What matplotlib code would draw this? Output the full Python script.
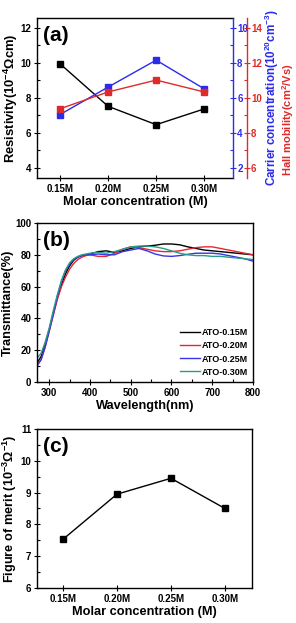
import matplotlib

matplotlib.use("Agg")
import matplotlib.pyplot as plt
from matplotlib.ticker import MultipleLocator

plt.rcParams.update({
    "font.family": ["Liberation Sans", "DejaVu Sans"],
    "font.weight": "bold",
    "axes.labelweight": "bold",
    "mathtext.fontset": "custom",
    "mathtext.rm": "Liberation Sans:bold",
    "mathtext.it": "Liberation Sans:bold",
    "mathtext.bf": "Liberation Sans:bold",
    "mathtext.default": "rm",
    "axes.linewidth": 1.0,
})

# ---- panel (a) / (c): molar concentration series ----
conc_labels = ["0.15M", "0.20M", "0.25M", "0.30M"]
resistivity = [9.93, 7.50, 6.45, 7.35]      # 10^-4 ohm cm
carrier = [5.03, 6.60, 8.14, 6.50]          # 10^20 cm^-3
mobility = [9.36, 10.32, 11.00, 10.32]      # cm^2/Vs
fom = [7.53, 8.95, 9.45, 8.50]              # 10^-3 ohm^-1

# ---- panel (b): transmittance spectra ----
wavelength = [270, 280, 290, 300, 310, 320, 330, 340, 350, 360, 370, 380, 390, 400,
              420, 440, 460, 480, 500, 520, 540, 560, 580, 600, 620, 640, 660, 680,
              700, 720, 740, 760, 780, 800]
t_015 = [12, 16, 24, 33, 43, 53, 61, 68, 73, 76.5, 78.5, 79.5, 80, 80.5,
         82, 82.5, 81.5, 82.5, 84, 85, 85.5, 86, 86.8, 86.8, 86.3, 85, 84, 83,
         82.5, 82, 81.5, 81, 80.5, 80]
t_020 = [11, 14, 22, 32, 42, 52, 60, 66, 71, 74.5, 77, 78.5, 79.5, 80,
         79, 79, 81, 83.5, 85, 84.5, 83.5, 82.5, 82, 82, 82.5, 83.5, 84.5, 85,
         85, 84, 83, 82, 81, 80]
t_025 = [10, 14, 22, 32, 43, 54, 63, 70, 74, 77, 78.5, 79.5, 80, 80,
         80.5, 80, 80, 82, 83, 84, 82.5, 80.5, 79.3, 79, 79.5, 80.3, 81, 81,
         81, 80.5, 79.5, 78.5, 77.5, 76]
t_030 = [15, 18, 25, 34, 45, 55, 64, 70.5, 75, 77.5, 79, 80, 80.5, 81,
         81.5, 81, 82, 83.5, 85, 85.5, 85.5, 85, 84, 82.5, 81, 80, 79.5, 79.5,
         79, 79, 78.5, 78, 77.5, 77]
spectra = [("ATO-0.15M", t_015, "black"),
           ("ATO-0.20M", t_020, "#e8272b"),
           ("ATO-0.25M", t_025, "#3535e6"),
           ("ATO-0.30M", t_030, "#2a9a8a")]

BLUE = "#2b2bea"
RED = "#e02a2a"
TICK = 7
LAB = 9.2
W, H = 296, 623


def style_ticks(ax, color="black", pad=2):
    ax.tick_params(axis="both", which="major", direction="inout", length=4, width=0.8,
                   labelsize=TICK, colors=color, pad=pad)
    ax.tick_params(axis="both", which="minor", direction="in", length=2, width=0.8,
                   colors=color)


fig = plt.figure(figsize=(W / 100, H / 100), dpi=100)
x = list(range(len(conc_labels)))

# (a)
ax = fig.add_axes([37 / W, 1 - 178 / H, 196 / W, 160 / H])
ax.plot(x, resistivity, "-s", color="black", lw=1.0, ms=3.8)
ax.set_xlim(-0.48, 3.6)
ax.set_ylim(3.4, 12.55)
ax.yaxis.set_major_locator(MultipleLocator(2))
ax.yaxis.set_minor_locator(MultipleLocator(1))
ax.set_xticks(x)
ax.set_xticklabels(conc_labels)
style_ticks(ax)
ax.spines["right"].set_visible(False)
ax.set_xlabel("Molar concentration (M)", fontsize=LAB, labelpad=2)
ax.set_ylabel("Resistivity(10$^{-4}$\u03a9cm)", fontsize=9.4)
ax.yaxis.set_label_coords(-0.085, 0.5)
ax.text(0.03, 0.95, "(a)", transform=ax.transAxes, fontsize=15, fontweight="bold",
        va="top", ha="left")

axb = ax.twinx()
axb.plot(x, carrier, "-s", color=BLUE, lw=1.0, ms=3.8)
axb.set_ylim(1.4, 10.55)
axb.yaxis.set_major_locator(MultipleLocator(2))
axb.yaxis.set_minor_locator(MultipleLocator(1))
for s in ("left", "top", "bottom"):
    axb.spines[s].set_visible(False)
axb.spines["right"].set_color(BLUE)
style_ticks(axb, BLUE, pad=1)

axr = ax.twinx()
axr.plot(x, mobility, "-s", color=RED, lw=1.0, ms=3.8)
axr.set_ylim(5.4, 14.55)
axr.yaxis.set_major_locator(MultipleLocator(2))
axr.yaxis.set_minor_locator(MultipleLocator(1))
for s in ("left", "top", "bottom"):
    axr.spines[s].set_visible(False)
axr.spines["right"].set_position(("outward", 10))
axr.spines["right"].set_color(RED)
style_ticks(axr, RED, pad=1)

fig.text(271.5 / W, 1 - 98 / H, "Carrier concentration(10$^{20}$cm$^{-3}$)", color=BLUE,
         fontsize=8.4, fontweight="bold", rotation=90, ha="center", va="center")
fig.text(288 / W, 1 - 120 / H, "Hall mobility(cm$^2$/Vs)", color=RED,
         fontsize=8.0, fontweight="bold", rotation=90, ha="center", va="center")

# (b)
ax2 = fig.add_axes([37 / W, 1 - 382 / H, 216 / W, 159 / H])
for name, vals, col in spectra:
    ax2.plot(wavelength, vals, color=col, lw=1.0, label=name)
ax2.set_xlim(270, 800)
ax2.set_ylim(0, 100)
ax2.xaxis.set_major_locator(MultipleLocator(100))
ax2.xaxis.set_minor_locator(MultipleLocator(50))
ax2.yaxis.set_major_locator(MultipleLocator(20))
ax2.yaxis.set_minor_locator(MultipleLocator(10))
style_ticks(ax2)
ax2.set_xlabel("Wavelength(nm)", fontsize=LAB, labelpad=2)
ax2.set_ylabel("Transmittance(%)", fontsize=LAB, labelpad=1)
ax2.text(0.03, 0.95, "(b)", transform=ax2.transAxes, fontsize=15, fontweight="bold",
         va="top", ha="left")
ax2.legend(loc="lower right", frameon=False, fontsize=6.5, handlelength=2.2,
           handletextpad=0.2, labelspacing=0.45, borderaxespad=0.2)

# (c)
ax3 = fig.add_axes([37 / W, 1 - 588 / H, 215 / W, 159 / H])
ax3.plot(x, fom, "-s", color="black", lw=1.0, ms=3.8)
ax3.set_xlim(-0.48, 3.5)
ax3.set_ylim(6, 11)
ax3.set_xticks(x)
ax3.set_xticklabels(conc_labels)
ax3.yaxis.set_major_locator(MultipleLocator(1))
ax3.yaxis.set_minor_locator(MultipleLocator(0.5))
style_ticks(ax3)
ax3.set_xlabel("Molar concentration (M)", fontsize=LAB, labelpad=2)
ax3.set_ylabel("Figure of merit (10$^{-3}$\u03a9$^{-1}$)", fontsize=LAB, labelpad=1)
ax3.text(0.03, 0.95, "(c)", transform=ax3.transAxes, fontsize=15, fontweight="bold",
         va="top", ha="left")

fig.savefig("out.png", dpi=100)
